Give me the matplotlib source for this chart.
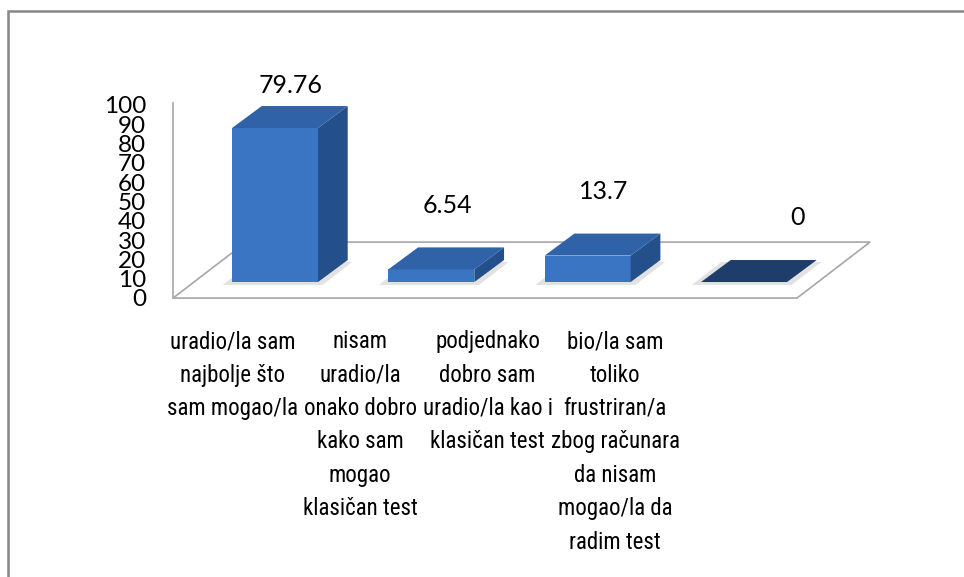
import numpy as np
import matplotlib.pyplot as plt
from matplotlib.patches import Polygon, Rectangle

plt.rcParams['font.family'] = ['Lato', 'DejaVu Sans']

categories = [
    'uradio/la sam\nnajbolje što\nsam mogao/la',
    'nisam\nuradio/la\nonako dobro\nkako sam\nmogao\nklasičan test',
    'podjednako\ndobro sam\nuradio/la kao i\nklasičan test',
    'bio/la sam\ntoliko\nfrustriran/a\nzbog računara\nda nisam\nmogao/la da\nradim test',
]
values = [79.76, 6.54, 13.7, 0]
ticks = np.arange(0, 101, 10)

# pseudo-3d geometry in data units
w = 0.55          # bar width
dx, dy = 0.19, 11.4   # bar depth offset
fl, fr, fy = -0.652, 3.339, -8.3   # floor front edge
fdx, fdy = 0.467, 29.0             # floor depth offset

fig = plt.figure(figsize=(9.64, 5.77), dpi=100)
ax = fig.add_axes([0, 0, 1, 1])
ax.set_xlim(-1.759, 4.407)
ax.set_ylim(-152.8, 146.1)
ax.axis('off')

# outer frame
fig.add_artist(Rectangle((8 / 964, -0.1), 1.2, 1 - 11 / 577 + 0.1, transform=fig.transFigure,
                         fill=False, ec='#878787', lw=1.8))

# floor and axis line
floor = [(fl, fy), (fr, fy), (fr + fdx, fy + fdy), (fl + fdx, fy + fdy)]
ax.add_patch(Polygon(floor, closed=True, fc='white', ec='#a6a6a6', lw=1.2, zorder=1))
ax.plot([fl, fl], [fy, 92.7], color='#a6a6a6', lw=1.2, zorder=1)

for t in ticks:
    ax.text(-0.825, t - 9.3, str(t), ha='right', va='center', fontsize=17.5, color='black')

for i, v in enumerate(values):
    x0, x1 = i - w / 2, i + w / 2
    # soft shadow on the floor
    ax.add_patch(Polygon([(x0 - 0.06, -1.5), (x1 + 0.03, -1.5), (x1 + dx + 0.03, dy - 1),
                          (x0 + dx - 0.06, dy - 1)], closed=True, fc='#d0d0d0', ec='none',
                         alpha=0.6, zorder=2))
    if v > 0:
        ax.add_patch(Rectangle((x0, 0), w, v, fc='#3a75c3', ec='none', zorder=3))
        ax.add_patch(Polygon([(x1, 0), (x1 + dx, dy), (x1 + dx, v + dy), (x1, v)],
                             closed=True, fc='#234f8a', ec='none', zorder=3))
        ax.add_patch(Polygon([(x0, v), (x1, v), (x1 + dx, v + dy), (x0 + dx, v + dy)],
                             closed=True, fc='#2f62a6', ec='none', zorder=3))
    else:
        ax.add_patch(Polygon([(x0, v), (x1, v), (x1 + dx, v + dy), (x0 + dx, v + dy)],
                             closed=True, fc='#1f3d6b', ec='none', zorder=3))
    ax.text(i + 0.1 + (0.24 if v == 0 else 0), min(v + 33.2, 102), f'{v:g}',
            ha='center', va='center', fontsize=18, color='black')

for i, c in enumerate(categories):
    ax.text(-0.27 + 0.815 * i, -24.9, c, ha='center', va='top', fontsize=16.5,
            linespacing=1.58, color='black', family=['Roboto Condensed', 'DejaVu Sans'])

fig.savefig('out.png', dpi=100)
